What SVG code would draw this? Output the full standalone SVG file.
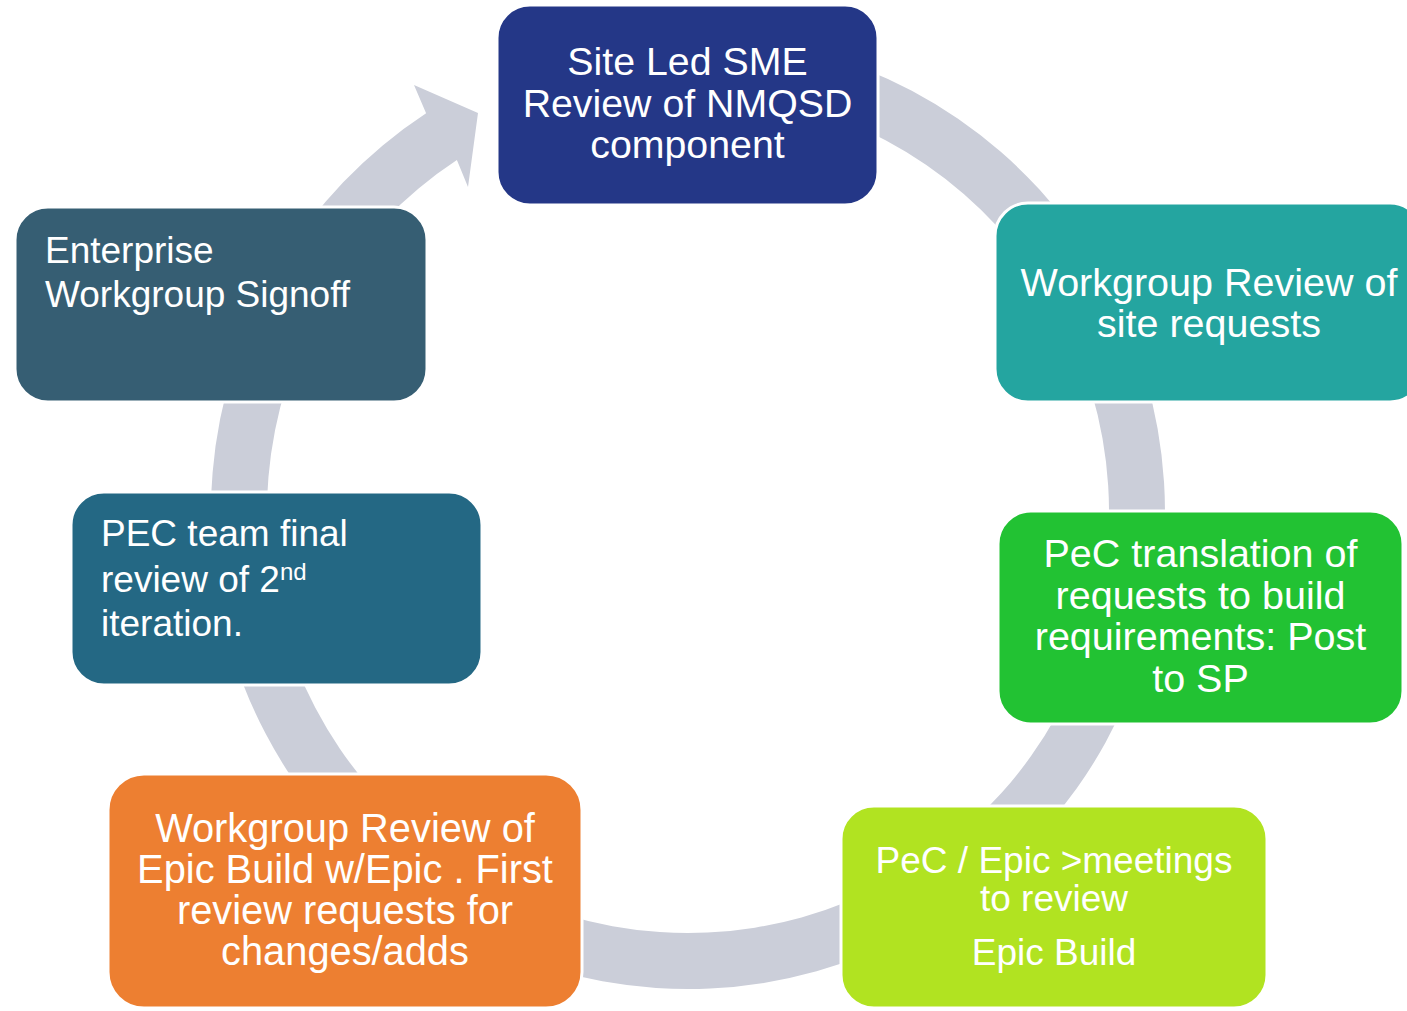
<svg xmlns="http://www.w3.org/2000/svg" width="1407" height="1011" viewBox="0 0 1407 1011">
  <style>
    .box { stroke: #ffffff; stroke-width: 3; }
    .lbl { fill: #ffffff; font-family: "Liberation Sans", Arial, sans-serif; }
    .mid { text-anchor: middle; }
    .ring { fill: #CBCED9; }
  </style>

  <!-- cycle ring with arrowhead, drawn beneath the steps -->
  <g id="connectors">
    <path class="ring" d="M 811.45 51.25 A 477 477 0 1 1 426.1 113.3 L 414 85 L 478 113 L 468 187 L 456.9 160.1 A 421 421 0 1 0 796.96 105.34 Z"/>
  </g>

  <!-- centred labels keep their tspans on one line so no stray spaces shift the chunks -->
  <g id="step-site-review">
    <rect class="box" x="497" y="5" width="381" height="200" rx="33" fill="#243787"/>
    <text class="lbl mid" font-size="39.3"><tspan x="687.5" y="75">Site Led SME</tspan><tspan x="687.5" y="117">Review of NMQSD</tspan><tspan x="687.5" y="158">component</tspan></text>
  </g>

  <g id="step-workgroup-site">
    <rect class="box" x="995" y="203" width="428" height="199" rx="33" fill="#24A5A0"/>
    <text class="lbl mid" font-size="39.5"><tspan x="1209" y="296">Workgroup Review of</tspan><tspan x="1209" y="337">site requests</tspan></text>
  </g>

  <g id="step-pec-translation">
    <rect class="box" x="998" y="511" width="405" height="213" rx="33" fill="#22C233"/>
    <text class="lbl mid" font-size="39.5"><tspan x="1200.5" y="567">PeC translation of</tspan><tspan x="1200.5" y="609">requests to build</tspan><tspan x="1200.5" y="650">requirements: Post</tspan><tspan x="1200.5" y="692">to SP</tspan></text>
  </g>

  <g id="step-epic-meetings">
    <rect class="box" x="841" y="806" width="426" height="202" rx="33" fill="#B1E321"/>
    <text class="lbl mid" font-size="37"><tspan x="1054" y="873">PeC / Epic &gt;meetings</tspan><tspan x="1054" y="911">to review</tspan><tspan x="1054" y="965">Epic Build</tspan></text>
  </g>

  <g id="step-workgroup-epic">
    <rect class="box" x="108" y="774" width="474" height="234" rx="36" fill="#ED7F31"/>
    <text class="lbl mid" font-size="39.8"><tspan x="345" y="842">Workgroup Review of</tspan><tspan x="345" y="883">Epic Build w/Epic . First</tspan><tspan x="345" y="924">review requests for</tspan><tspan x="345" y="965">changes/adds</tspan></text>
  </g>

  <g id="step-pec-final">
    <rect class="box" x="71" y="492" width="411" height="193" rx="33" fill="#246884"/>
    <text class="lbl" font-size="37">
      <tspan x="101" y="546">PEC team final</tspan>
      <tspan x="101" y="592">review of 2<tspan font-size="24" dy="-12">nd</tspan></tspan>
      <tspan x="101" y="636">iteration.</tspan>
    </text>
  </g>

  <g id="step-enterprise-signoff">
    <rect class="box" x="15" y="207" width="412" height="195" rx="33" fill="#365E73"/>
    <text class="lbl" font-size="37">
      <tspan x="45" y="263">Enterprise</tspan>
      <tspan x="45" y="307">Workgroup Signoff</tspan>
    </text>
  </g>
</svg>
